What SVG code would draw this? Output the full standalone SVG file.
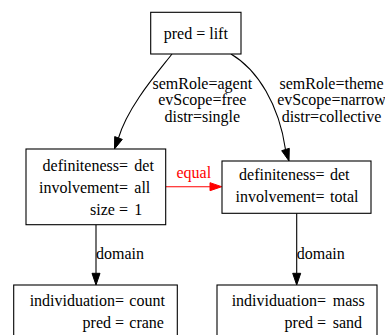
<svg xmlns="http://www.w3.org/2000/svg" width="385" height="335" viewBox="0 0 385 335">
<style>
text{font-family:"Liberation Serif","Times New Roman",serif;font-size:16px;fill:#000}
.box{fill:#fff;stroke:#000;stroke-width:1.1}
.e{fill:none;stroke:#000;stroke-width:1.1}
.ah{fill:#000;stroke:#000;stroke-width:1}
.red{stroke:#ff0000}
.redf{fill:#ff0000;stroke:#ff0000}
.r{text-anchor:end}
.m{text-anchor:middle}
</style>
<rect width="385" height="335" fill="#fff"/>
<g id="connectors">
<path class="e" d="M172,54 C158,72 128,106 118.5,138"/>
<polygon class="ah" points="114.5,149 122.3,139.4 114.7,136.6"/>
<text class="m" x="202.3" y="88.5">semRole=agent</text>
<text class="m" x="202.3" y="105">evScope=free</text>
<text class="m" x="202.3" y="121.5">distr=single</text>
<path class="e" d="M231,54 C258,70 279,105 285.5,149.5"/>
<polygon class="ah" points="289,161 289.3,148.3 281.7,150.7"/>
<text class="m" x="331.5" y="88.5">semRole=theme</text>
<text class="m" x="331.5" y="105">evScope=narrow</text>
<text class="m" x="331.5" y="121.5">distr=collective</text>
<path class="e red" d="M166,186.7 H210"/>
<polygon class="redf" points="221.7,186.7 210,182.7 210,190.7"/>
<text class="m" x="193.8" y="177.5" fill="#ff0000" style="fill:#ff0000">equal</text>
<path class="e" d="M96,225 V273.3"/>
<polygon class="ah" points="96,285 92,273.3 100,273.3"/>
<text x="96" y="259.3">domain</text>
<path class="e" d="M296.7,213.3 V273.3"/>
<polygon class="ah" points="296.7,285 292.7,273.3 300.7,273.3"/>
<text x="296.7" y="259.3">domain</text>
</g>
<g id="node-lift">
<rect class="box" x="150.7" y="12.3" width="90.3" height="41.7"/>
<text class="m" x="195.8" y="38.5">pred = lift</text>
</g>
<g id="node-agent">
<rect class="box" x="26" y="149" width="139.7" height="75.7"/>
<text class="r" x="128" y="170.5">definiteness=</text>
<text x="134.3" y="170.5">det</text>
<text class="r" x="128" y="192.5">involvement=</text>
<text x="134.3" y="192.5">all</text>
<text class="r" x="128" y="214.5">size =</text>
<text x="134.3" y="214.5">1</text>
</g>
<g id="node-theme">
<rect class="box" x="222" y="161" width="149" height="52.3"/>
<text class="r" x="324.5" y="179.5">definiteness=</text>
<text x="330" y="179.5">det</text>
<text class="r" x="324.5" y="201.5">involvement=</text>
<text x="330" y="201.5">total</text>
</g>
<g id="node-crane">
<rect class="box" x="13.7" y="285" width="163.6" height="60"/>
<text class="r" x="124" y="305.5">individuation=</text>
<text x="129.3" y="305.5">count</text>
<text class="r" x="124" y="327.5">pred =</text>
<text x="129.3" y="327.5">crane</text>
</g>
<g id="node-sand">
<rect class="box" x="217" y="285" width="160" height="60"/>
<text class="r" x="326" y="305.5">individuation=</text>
<text x="332.7" y="305.5">mass</text>
<text class="r" x="326" y="327.5">pred =</text>
<text x="332.7" y="327.5">sand</text>
</g>
</svg>
